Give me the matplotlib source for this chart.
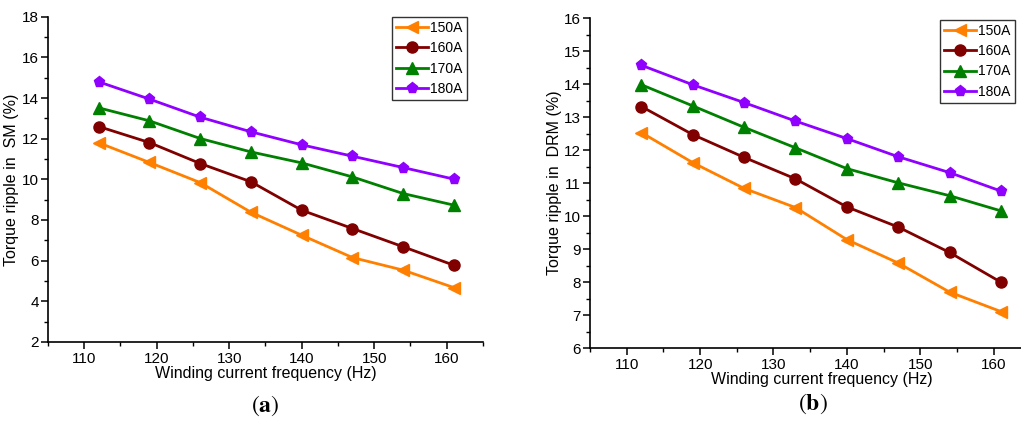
import matplotlib
matplotlib.use("Agg")
import matplotlib.pyplot as plt
from matplotlib.ticker import MultipleLocator

plt.rcParams['font.family'] = ['Liberation Sans', 'DejaVu Sans']
plt.rcParams['mathtext.fontset'] = 'stix'

freq = [112, 119, 126, 133, 140, 147, 154, 161]
labels = ['150A', '160A', '170A', '180A']

# (a) torque ripple in SM (%)
sm_150 = [11.80, 10.83, 9.84, 8.38, 7.25, 6.15, 5.53, 4.67]
sm_160 = [12.60, 11.81, 10.78, 9.88, 8.48, 7.58, 6.68, 5.77]
sm_170 = [13.52, 12.88, 12.01, 11.35, 10.81, 10.12, 9.30, 8.73]
sm_180 = [14.80, 13.95, 13.06, 12.34, 11.70, 11.14, 10.58, 10.01]

# (b) torque ripple in DRM (%)
drm_150 = [12.53, 11.62, 10.84, 10.26, 9.29, 8.58, 7.70, 7.11]
drm_160 = [13.32, 12.47, 11.78, 11.13, 10.28, 9.67, 8.90, 8.00]
drm_170 = [13.98, 13.34, 12.69, 12.07, 11.44, 11.01, 10.62, 10.16]
drm_180 = [14.57, 13.98, 13.44, 12.88, 12.35, 11.80, 11.32, 10.76]

colors = ['#FF8000', '#800000', '#008000', '#8F00FF']
markers = ['<', 'o', '^', 'p']

fig = plt.figure(figsize=(10.21, 4.21), dpi=100)
ax1 = fig.add_axes([0.047, 0.188, 0.426, 0.772])
ax2 = fig.add_axes([0.578, 0.173, 0.431, 0.784])


def draw(ax, series, ylabel, ylim, major, minor, leg_anchor, ylab_x, xlab_xy):
    for s, lab, c, m in zip(series, labels, colors, markers):
        ax.plot(freq, s, color=c, marker=m, markersize=8, linewidth=2, label=lab)
    ax.set_xlim(105, 165)
    ax.set_ylim(*ylim)
    ax.xaxis.set_major_locator(MultipleLocator(10))
    ax.xaxis.set_minor_locator(MultipleLocator(5))
    ax.yaxis.set_major_locator(MultipleLocator(major))
    ax.yaxis.set_minor_locator(MultipleLocator(minor))
    for sp in ['top', 'right']:
        ax.spines[sp].set_visible(False)
    for sp in ['left', 'bottom']:
        ax.spines[sp].set_linewidth(1.2)
    ax.tick_params(which='major', direction='out', length=5, width=1.1, labelsize=11, pad=2)
    ax.tick_params(axis='y', which='major', pad=1.5)
    ax.tick_params(which='minor', direction='out', length=3, width=1.0)
    ax.set_xlabel('Winding current frequency (Hz)', fontsize=11.5)
    ax.set_ylabel(ylabel, fontsize=11.5)
    ax.yaxis.set_label_coords(ylab_x, 0.5)
    ax.xaxis.set_label_coords(*xlab_xy)
    ax.xaxis.label.set_va('center')
    ax.yaxis.label.set_va('center')
    leg = ax.legend(loc='upper right', bbox_to_anchor=leg_anchor,
                    bbox_transform=fig.transFigure, fontsize=10, frameon=True,
                    fancybox=False, edgecolor='black', handlelength=2.3, borderpad=0.3,
                    labelspacing=0.45, handletextpad=0.15, borderaxespad=0.0)
    leg.get_frame().set_linewidth(1.0)


draw(ax1, [sm_150, sm_160, sm_170, sm_180], 'Torque ripple in  SM (%)', (2, 18), 2, 1,
     (0.457, 0.96), -0.083, (0.5, -0.098))
draw(ax2, [drm_150, drm_160, drm_170, drm_180], 'Torque ripple in  DRM (%)', (6, 16), 1, 0.5,
     (0.994, 0.953), -0.08, (0.527, -0.094))

fig.text(0.26, 0.037, r'$(\mathbf{a})$', ha='center', va='center', fontsize=17)
fig.text(0.796, 0.042, r'$(\mathbf{b})$', ha='center', va='center', fontsize=17)

fig.savefig('out.png', dpi=100)
